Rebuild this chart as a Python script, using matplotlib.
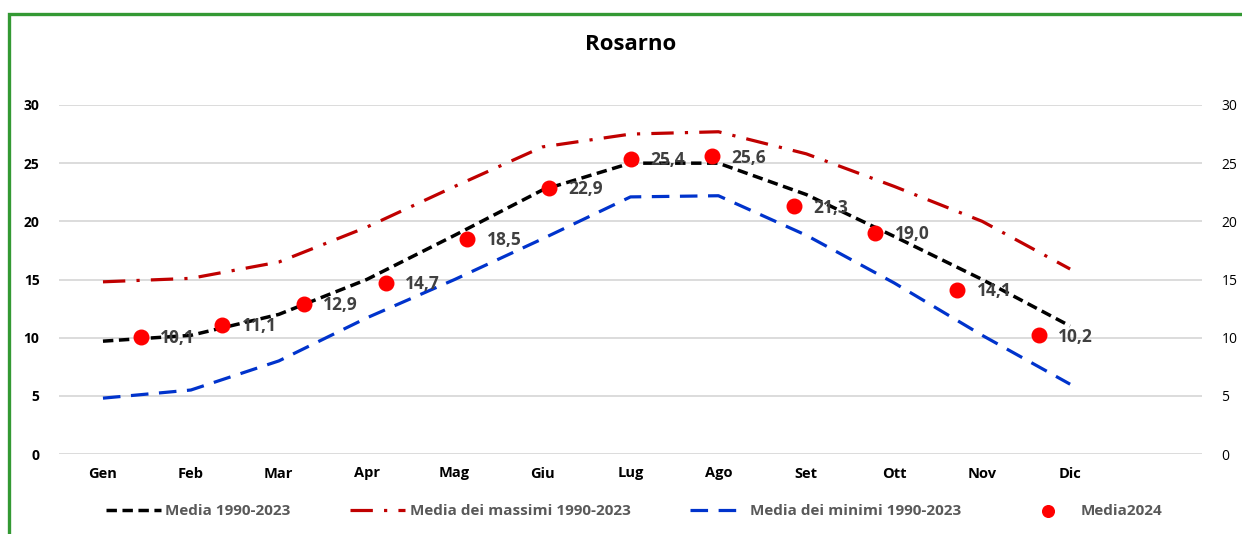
import matplotlib
matplotlib.use("Agg")
import matplotlib.pyplot as plt
from matplotlib.patches import Rectangle
import numpy as np

plt.rcParams['font.family'] = ['Open Sans', 'DejaVu Sans']

mesi = ["Gen", "Feb", "Mar", "Apr", "Mag", "Giu", "Lug", "Ago", "Set", "Ott", "Nov", "Dic"]
media = [9.7, 10.2, 12.0, 15.0, 18.8, 22.7, 25.0, 25.0, 22.3, 18.7, 15.0, 11.0]
massimi = [14.8, 15.1, 16.5, 19.5, 23.0, 26.4, 27.5, 27.7, 25.8, 23.0, 20.0, 15.9]
minimi = [4.8, 5.5, 8.0, 11.7, 15.0, 18.5, 22.1, 22.2, 18.8, 14.7, 10.2, 6.0]
media2024 = [10.1, 11.1, 12.9, 14.7, 18.5, 22.9, 25.4, 25.6, 21.3, 19.0, 14.1, 10.2]
yticks = [0, 5, 10, 15, 20, 25, 30]

fig = plt.figure(figsize=(12.42, 5.34), dpi=100)
pos = [59 / 1242, 1 - 454 / 534, (1202 - 59) / 1242, (454 - 105) / 534]
ax = fig.add_axes(pos)
x = np.arange(len(mesi))

ax.plot(x, massimi, color="#c00000", lw=2.3, dashes=(7, 3.5, 1, 3.5),
        label="Media dei massimi 1990-2023", zorder=3)
ax.plot(x, minimi, color="#0033cc", lw=2.3, dashes=(5.5, 3.3),
        label="Media dei minimi 1990-2023", zorder=3)
ax.plot(x, media, color="black", lw=2.5, dashes=(3.0, 1.6),
        label="Media 1990-2023", zorder=3)
ax.set_xlim(-0.5, len(mesi) + 0.5)
ax.set_ylim(0, 30)
ax.set_yticks(yticks)
ax.set_xticks(x)
ax.set_xticklabels(mesi, fontsize=10.5, fontweight="bold")
ax.tick_params(axis="y", labelsize=10, length=0, pad=14)
ax.tick_params(axis="x", length=0, pad=9)
for lab in ax.get_yticklabels():
    lab.set_fontweight("bold")
ax.grid(axis="y", color="#d9d9d9", lw=1.3)
ax.set_axisbelow(True)
for s in ax.spines.values():
    s.set_visible(False)

# secondary axes for the 2024 dots (different category spacing)
ax2 = fig.add_axes(pos, frameon=False)
ax2.set_xlim(-1, len(mesi) + 1)
ax2.set_ylim(0, 30)
ax2.set_xticks([])
ax2.set_yticks(yticks)
ax2.yaxis.tick_right()
ax2.tick_params(axis="y", labelsize=10, length=0, pad=14)
ax2.scatter(x, media2024, s=110, color="#ff0000", zorder=4, label="Media2024")
for xi, v in zip(x, media2024):
    ax2.annotate(f"{v:.1f}".replace(".", ","), (xi, v), xytext=(14, -1),
                 textcoords="offset points", va="center", ha="left",
                 fontsize=12.5, fontweight="bold", color="#404040", zorder=5)

fig.text(631 / 1242, 1 - 44 / 534, "Rosarno", ha="center", va="center",
         fontsize=16, fontweight="bold")

h1, l1 = ax.get_legend_handles_labels()
h2, l2 = ax2.get_legend_handles_labels()
order = [2, 0, 1]
handles = [h1[i] for i in order] + h2
labels = [l1[i] for i in order] + l2
leg = fig.legend(handles, labels, loc="center", ncol=4, frameon=False,
                 bbox_to_anchor=(634 / 1242, 1 - 511 / 534), fontsize=11,
                 handlelength=3.6, columnspacing=3.9, handletextpad=0.3,
                 markerscale=0.8)
for t in leg.get_texts():
    t.set_color("#595959")
    t.set_fontweight("bold")

# green frame
fig.add_artist(Rectangle((8.5 / 1242, -0.1), 1.2, 1 - 13.5 / 534 + 0.1,
                         transform=fig.transFigure, fill=False,
                         edgecolor="#339933", lw=2.4))

fig.savefig("out.png", dpi=100)
